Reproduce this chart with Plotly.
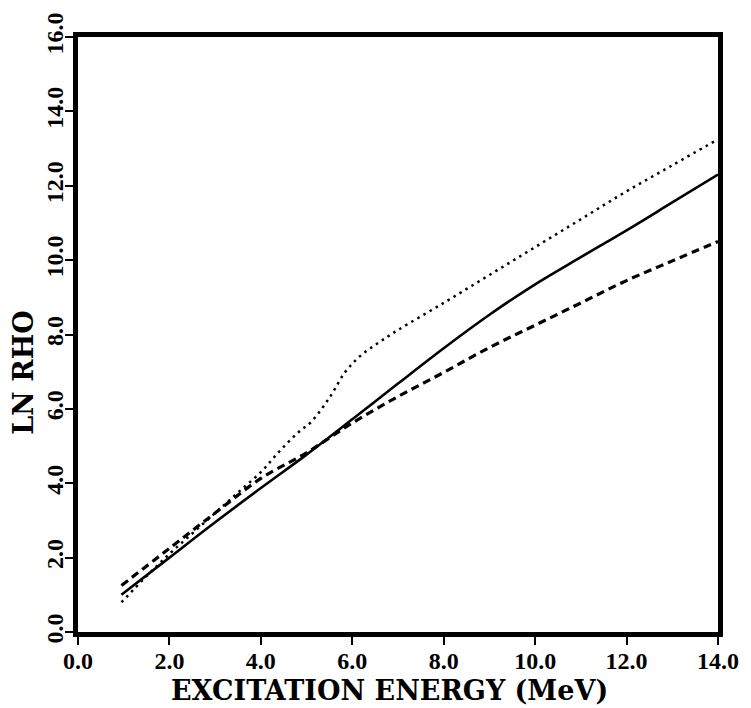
import plotly.graph_objects as go

# Data
energy_solid = [0.95, 2.0, 3.0, 4.0, 5.0, 6.0, 7.0, 8.0, 9.0, 10.0, 11.0, 12.0, 13.0, 14.0]
ln_rho_solid = [1.0, 2.0, 2.95, 3.87, 4.77, 5.72, 6.68, 7.63, 8.53, 9.35, 10.08, 10.8, 11.55, 12.3]

energy_dashed = [0.95, 2.0, 3.0, 4.0, 5.0, 6.0, 7.0, 8.0, 9.0, 10.0, 11.0, 12.0, 13.0, 14.0]
ln_rho_dashed = [1.25, 2.25, 3.2, 4.13, 4.82, 5.62, 6.33, 6.98, 7.65, 8.25, 8.85, 9.45, 9.98, 10.5]

energy_dotted = [0.95, 1.5, 2.0, 2.5, 3.0, 3.5, 4.0, 4.4, 4.8, 5.1, 5.5, 5.85, 6.2, 6.6, 7.0,
                 8.0, 9.0, 10.0, 11.0, 12.0, 13.0, 14.0]
ln_rho_dotted = [0.8, 1.5, 2.1, 2.65, 3.2, 3.75, 4.3, 4.85, 5.35, 5.65, 6.3, 7.0, 7.45, 7.8, 8.12,
                 8.85, 9.6, 10.35, 11.1, 11.85, 12.55, 13.25]

tick_vals = [0, 2, 4, 6, 8, 10, 12, 14, 16]
tick_text = ["0.0", "2.0", "4.0", "6.0", "8.0", "10.0", "12.0", "14.0", "16.0"]

x_title = "EXCITATION ENERGY (MeV)"
y_title = "LN RHO"

TICK_FONT = "Liberation Serif"
TITLE_FONT = "DejaVu Serif"

fig = go.Figure()
fig.add_trace(go.Scatter(x=energy_solid, y=ln_rho_solid, mode="lines", line_shape="spline",
                         line=dict(color="black", width=2.6), showlegend=False))
fig.add_trace(go.Scatter(x=energy_dashed, y=ln_rho_dashed, mode="lines", line_shape="spline",
                         line=dict(color="black", width=3.2, dash="8px,5px"), showlegend=False))
fig.add_trace(go.Scatter(x=energy_dotted, y=ln_rho_dotted, mode="lines", line_shape="spline",
                         line=dict(color="black", width=2.5, dash="2.5px,4.5px"), showlegend=False))

fig.update_layout(
    width=751, height=708,
    margin=dict(l=78, r=31, t=33, b=76),
    paper_bgcolor="white", plot_bgcolor="white",
    xaxis=dict(range=[0, 14], tickvals=tick_vals[:8], ticktext=tick_text[:8],
               showgrid=False, zeroline=False, showline=True, linewidth=5, linecolor="black",
               mirror=True, ticks="outside", ticklen=8, tickwidth=2, tickcolor="black",
               tickfont=dict(family=TICK_FONT, size=24, color="black", weight="bold"),
               ticklabelstandoff=-5),
    yaxis=dict(range=[0, 16], tickvals=tick_vals, ticktext=tick_text,
               showgrid=False, zeroline=False, showline=True, linewidth=5, linecolor="black",
               mirror=True, ticks="outside", ticklen=8, tickwidth=2, tickcolor="black",
               tickangle=-90,
               tickfont=dict(family=TICK_FONT, size=24, color="black", weight="bold"),
               ticklabelstandoff=-8),
    annotations=[
        dict(text=x_title, xref="paper", yref="paper", x=0.486, y=-0.0985,
             xanchor="center", yanchor="middle", showarrow=False,
             font=dict(family=TITLE_FONT, size=27, color="black", weight="bold")),
        dict(text=y_title, xref="paper", yref="paper", x=-0.0855, y=0.436,
             xanchor="center", yanchor="middle", showarrow=False, textangle=-90,
             font=dict(family=TITLE_FONT, size=27, color="black", weight="bold")),
    ],
)

fig.write_html("out.html")
